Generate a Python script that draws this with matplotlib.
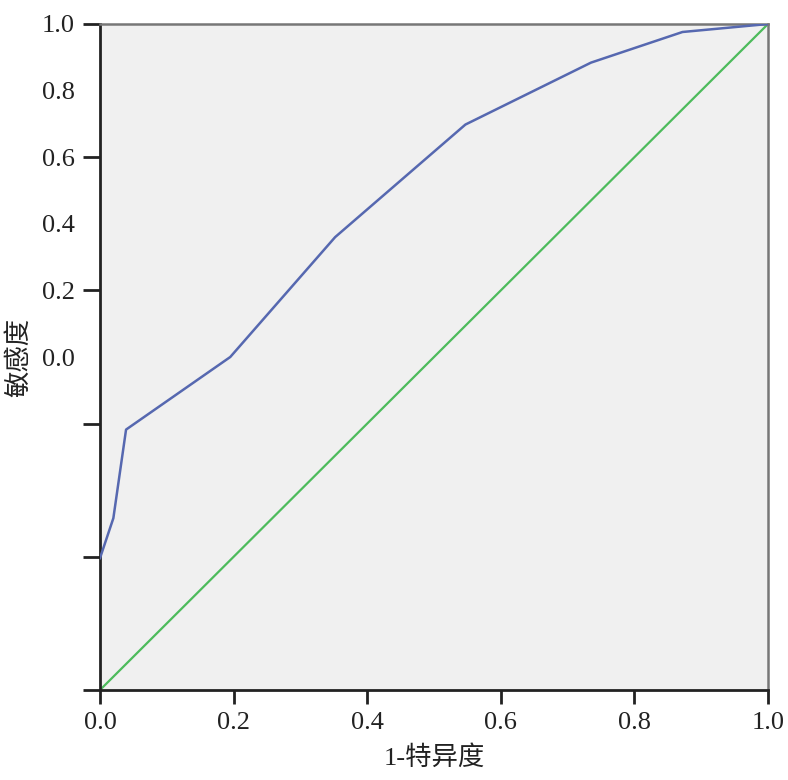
import matplotlib
matplotlib.use("Agg")
import matplotlib.pyplot as plt

# ROC curve
fpr = [0.0, 0.020, 0.039, 0.195, 0.352, 0.547, 0.735, 0.872, 1.0]
tpr = [0.198, 0.258, 0.391, 0.500, 0.680, 0.849, 0.942, 0.988, 1.0]
ref_line = [0.0, 1.0]

x_ticks = [0.0, 0.2, 0.4, 0.6, 0.8, 1.0]
x_labels = ["0.0", "0.2", "0.4", "0.6", "0.8", "1.0"]
# the y axis in the source is labelled oddly; keep it as printed
y_major = [0.0, 0.2, 0.4, 0.6, 0.8, 1.0]
y_major_labels = ["", "", "", "0.2", "0.6", "1.0"]
y_minor = [0.5, 0.7, 0.9]
y_minor_labels = ["0.0", "0.4", "0.8"]

fonts = ["Liberation Serif", "Noto Sans CJK SC", "DejaVu Sans"]
plt.rcParams["font.family"] = fonts

fig = plt.figure(figsize=(7.88, 7.8), dpi=100)
ax = fig.add_axes([100 / 788, 90 / 780, 668 / 788, 666 / 780])
ax.set_facecolor("#f0f0f0")

ax.plot(ref_line, ref_line, color="#4dbb5c", lw=1.6, zorder=2)
ax.plot(fpr, tpr, color="#5668b0", lw=1.8, zorder=3)

ax.set_xlim(0, 1)
ax.set_ylim(0, 1)

ax.set_xticks(x_ticks)
ax.set_xticklabels(x_labels)
ax.set_yticks(y_major)
ax.set_yticklabels(y_major_labels)
ax.set_yticks(y_minor, minor=True)
ax.set_yticklabels(y_minor_labels, minor=True)

ax.tick_params(axis="x", which="major", direction="out", length=10, width=2,
               labelsize=19, pad=6, colors="#222222")
ax.tick_params(axis="y", which="major", direction="out", length=12, width=2,
               labelsize=19, pad=6, colors="#222222")
ax.tick_params(axis="y", which="minor", length=0, labelsize=19, pad=18,
               labelcolor="#222222")

for side in ["left", "bottom"]:
    ax.spines[side].set_color("#222222")
    ax.spines[side].set_linewidth(2)
for side in ["top", "right"]:
    ax.spines[side].set_color("#777777")
    ax.spines[side].set_linewidth(1.8)

ax.set_xlabel("1-特异度", fontsize=19, color="#222222", labelpad=8)
ax.set_ylabel("敏感度", fontsize=19, color="#222222", labelpad=8)

plt.savefig("out.png", dpi=100)
